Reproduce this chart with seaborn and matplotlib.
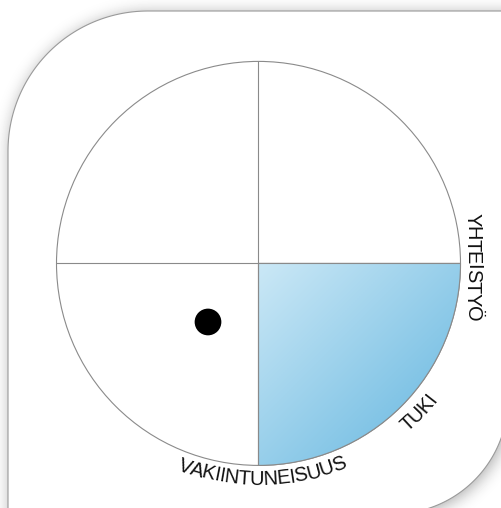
import numpy as np
import matplotlib
matplotlib.use("Agg")
import matplotlib.pyplot as plt
import seaborn as sns
from matplotlib.path import Path
from matplotlib.patches import PathPatch, Circle, Wedge
from matplotlib.colors import LinearSegmentedColormap
from matplotlib.font_manager import FontProperties

sns.set_theme(style="white")
plt.rcParams["font.family"] = ["Liberation Sans", "DejaVu Sans"]

# position of the point (unit circle coordinates)
point_x = [-0.25]
point_y = [-0.29]

# axis labels around the circle
label_names = ["YHTEISTYÖ", "TUKI", "VAKIINTUNEISUUS"]
label_angles = [-1, -43, -89]          # degrees around the circle
label_radius = [1.058, 1.086, 1.07]
label_curved = [False, True, True]

# highlighted quadrant (degrees)
quadrant_start = 270
quadrant_end = 360

W, H = 502, 508
CX, CY, RPX = 258.5, 263.4, 202.0   # circle centre / radius in pixels
FS = 14.4
SPACING = 0.95

fig = plt.figure(figsize=(W / 100, H / 100), dpi=100)

# ---- background panel with soft shadow (pixel coords) ----
ax_bg = fig.add_axes([0, 0, 1, 1])
ax_bg.set_xlim(0, W)
ax_bg.set_ylim(H, 0)
ax_bg.axis("off")


def panel_path(dx=0.0, dy=0.0):
    pts = []
    r1, c1 = 140, (148, 151)
    for a in np.linspace(np.pi, np.pi / 2, 60):
        pts.append((c1[0] + r1 * np.cos(a), c1[1] - r1 * np.sin(a)))
    pts.append((600, 11))
    pts.append((600, 399))
    r2, c2 = 115, (393, 399)
    for a in np.linspace(0, -np.pi / 2, 60):
        pts.append((c2[0] + r2 * np.cos(a), c2[1] - r2 * np.sin(a)))
    pts.append((393, 600))
    pts.append((8, 600))
    pts.append(pts[0])
    pts = np.array(pts) + [dx, dy]
    return Path(pts, closed=True)


# shadow: blurred mask of the panel
pad = 40
gx, gy = np.meshgrid(np.arange(-pad, W + pad) + 0.5, np.arange(-pad, H + pad) + 0.5)
mask = panel_path(2, 2).contains_points(np.c_[gx.ravel(), gy.ravel()]).reshape(gx.shape).astype(float)
sigma = 8.0
k = np.arange(-30, 31)
kern = np.exp(-k ** 2 / (2 * sigma ** 2))
kern /= kern.sum()
blur = np.apply_along_axis(lambda r: np.convolve(r, kern, mode="same"), 1, mask)
blur = np.apply_along_axis(lambda c: np.convolve(c, kern, mode="same"), 0, blur)
blur = blur[pad:pad + H, pad:pad + W]
shade = 1 - 0.34 * blur
ax_bg.imshow(shade, cmap="gray", vmin=0, vmax=1, extent=(0, W, H, 0), zorder=0)
ax_bg.add_patch(PathPatch(panel_path(), facecolor="white", edgecolor="#9a9a9a", lw=0.8, zorder=1))

# ---- chart axes (unit circle coordinates) ----
ax = fig.add_axes([0, 0, 1, 1])
ax.patch.set_alpha(0)

ax.add_patch(Circle((0, 0), 1, facecolor="white", edgecolor="#8a8a8a", lw=0.8, zorder=1))

# gradient fill of the highlighted quadrant
n = 300
ux, uy = np.meshgrid(np.linspace(0, 1, n), np.linspace(-1, 0, n))
grad = (ux - uy) / 2
cmap = LinearSegmentedColormap.from_list("q", ["#cbe8f6", "#62b5df"])
a0 = np.deg2rad(quadrant_start)
a1 = np.deg2rad(quadrant_end)
ext = (min(0, np.cos(a0), np.cos(a1)), max(0, np.cos(a0), np.cos(a1)),
       min(0, np.sin(a0), np.sin(a1)), max(0, np.sin(a0), np.sin(a1)))
img = ax.imshow(grad, cmap=cmap, vmin=0, vmax=1, extent=ext, origin="lower", zorder=2, aspect="auto")
wedge = Wedge((0, 0), 1, quadrant_start, quadrant_end, transform=ax.transData)
img.set_clip_path(wedge)
ax.add_patch(Wedge((0, 0), 1, quadrant_start, quadrant_end, facecolor="none",
                   edgecolor="#8a8a8a", lw=0.8, zorder=3))

ax.plot([-1, 1], [0, 0], color="#8a8a8a", lw=0.8, zorder=4)
ax.plot([0, 0], [-1, 1], color="#8a8a8a", lw=0.8, zorder=4)

sns.scatterplot(x=point_x, y=point_y, ax=ax, color="black", s=370,
                edgecolor="none", legend=False, zorder=5)
ax.set_xlim(-CX / RPX, (W - CX) / RPX)
ax.set_ylim(-(H - CY) / RPX, CY / RPX)
ax.axis("off")

# ---- labels ----
renderer = fig.canvas.get_renderer()
prop = FontProperties(family=["Liberation Sans", "DejaVu Sans"], size=FS)


def text_width(s):
    if not s:
        return 0.0
    return renderer.get_text_width_height_descent(s, prop, ismath=False)[0]


def char_offsets(name):
    total = text_width(name)
    return [SPACING * (text_width(name[:i]) + text_width(ch) / 2 - total / 2) for i, ch in enumerate(name)]


for name, ang, rad, curved in zip(label_names, label_angles, label_radius, label_curved):
    t0 = np.deg2rad(ang)
    for ch, s in zip(name, char_offsets(name)):
        if curved:
            t = t0 + s / (rad * RPX)
            x, y, rot = rad * np.cos(t), rad * np.sin(t), np.degrees(t) + 90
        else:
            # straight vertical text reading downwards
            x, y, rot = rad * np.cos(t0), rad * np.sin(t0) - s / RPX, -90
        ax.text(x, y, ch, rotation=rot, fontproperties=prop, ha="center", va="center",
                rotation_mode="anchor", color="#111111", zorder=6)

fig.savefig("out.png", dpi=100)
